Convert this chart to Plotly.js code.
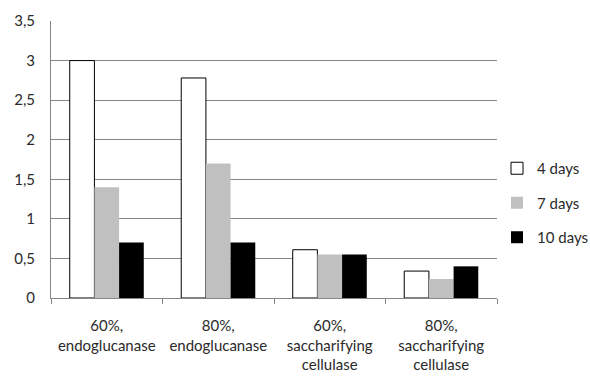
<!DOCTYPE html>
<html><head><meta charset="utf-8">
<script src="https://cdn.plot.ly/plotly-3.0.1.min.js"></script>
<style>body{margin:0;background:#fff}#c{width:590px;height:381px}</style>
</head><body><div id="c"></div>
<script>
const categories = ["60%,<br>endoglucanase", "80%,<br>endoglucanase", "60%,<br>saccharifying<br>cellulase", "80%,<br>saccharifying<br>cellulase"];
const days4 = [3.0, 2.78, 0.61, 0.34];
const days7 = [1.4, 1.7, 0.55, 0.24];
const days10 = [0.7, 0.7, 0.55, 0.40];
const seriesNames = ["4 days", "7 days", "10 days"];
const yTicks = [0, 0.5, 1, 1.5, 2, 2.5, 3, 3.5];

const FONT = "Lato, 'Liberation Sans', sans-serif";
const traces = [
  {x: categories, y: days4, name: seriesNames[0], type: 'bar', legendgroup: 'a',
   marker: {color: '#ffffff', line: {color: '#000000', width: 1}}},
  {x: categories, y: days7, name: seriesNames[1], type: 'bar', legendgroup: 'b',
   marker: {color: '#c0c0c0', line: {width: 0}}},
  {x: categories, y: days10, name: seriesNames[2], type: 'bar', legendgroup: 'c',
   marker: {color: '#000000', line: {width: 0}}}
];
const layout = {
  width: 590, height: 381,
  margin: {l: 51, r: 93, t: 21, b: 83, autoexpand: false},
  paper_bgcolor: '#fff', plot_bgcolor: '#fff',
  font: {family: FONT, size: 15, color: '#2a2a2a'},
  separators: ', ',
  barmode: 'group', bargap: 0.336, bargroupgap: 0,
  showlegend: true,
  legend: {x: 1.0, xanchor: 'left', y: 0.343, yanchor: 'middle',
    traceorder: 'grouped', tracegroupgap: 12, itemwidth: 30,
    font: {family: FONT, size: 15, color: '#2a2a2a'}},
  xaxis: {type: 'category', showline: true, linecolor: '#868686', linewidth: 1,
    ticks: 'outside', tickson: 'boundaries', ticklen: 5, tickcolor: '#868686',
    showgrid: false, ticklabelstandoff: 14, tickfont: {size: 15}},
  yaxis: {range: [0, 3.5], tickvals: yTicks, showline: true, linecolor: '#868686',
    linewidth: 1, showgrid: true, gridcolor: '#868686', gridwidth: 1, zeroline: false,
    ticks: '', ticklabelstandoff: 12, tickfont: {size: 15}}
};
Plotly.newPlot('c', traces, layout, {displayModeBar: false, staticPlot: true});
</script></body></html>
